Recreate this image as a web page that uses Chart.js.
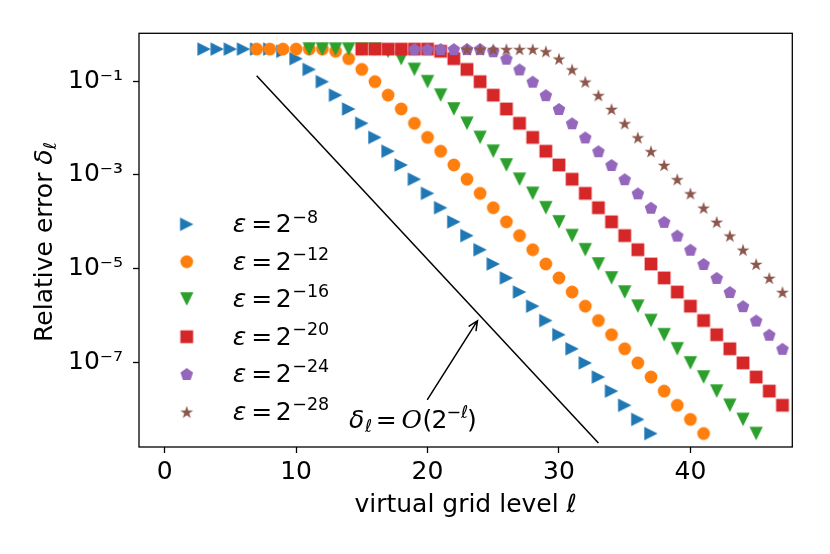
<!DOCTYPE html>
<html>
<head>
<meta charset="utf-8">
<script src="https://cdn.jsdelivr.net/npm/chart.js@4.4.1/dist/chart.umd.min.js"></script>
<style>
  html, body { margin: 0; padding: 0; background: #fff; }
  canvas { display: block; }
</style>
</head>
<body>
<canvas id="c" width="830" height="554"></canvas>
<script>
// ---------------- data ----------------
const seriesExponents = ['−8', '−12', '−16', '−20', '−24', '−28'];
const seriesColors = ['#1f77b4', '#ff7f0e', '#2ca02c', '#d62728', '#9467bd', '#8c564b'];
const seriesShapes = ['triRight', 'circle', 'triDown', 'square', 'pentagon', 'star'];

const levelsEps8 = [3,4,5,6,7,8,9,10,11,12,13,14,15,16,17,18,19,20,21,22,23,24,25,26,27,28,29,30,31,32,33,34,35,36,37];
const errorEps8 = [0.48,0.48,0.48,0.48,0.48,0.48,0.43,0.30,0.177,0.097,0.050,0.0254,0.0126,6.3e-3,3.2e-3,1.63e-3,8.1e-4,4.05e-4,2.0e-4,1.0e-4,5.1e-5,2.55e-5,1.27e-5,6.4e-6,3.2e-6,1.6e-6,7.9e-7,3.95e-7,1.98e-7,9.9e-8,4.95e-8,2.48e-8,1.24e-8,6.2e-9,3.1e-9];

const levelsEps12 = [7,8,9,10,11,12,13,14,15,16,17,18,19,20,21,22,23,24,25,26,27,28,29,30,31,32,33,34,35,36,37,38,39,40,41];
const errorEps12 = [0.48,0.48,0.48,0.48,0.48,0.48,0.43,0.30,0.177,0.097,0.050,0.0254,0.0126,6.3e-3,3.2e-3,1.63e-3,8.1e-4,4.05e-4,2.0e-4,1.0e-4,5.1e-5,2.55e-5,1.27e-5,6.4e-6,3.2e-6,1.6e-6,7.9e-7,3.95e-7,1.98e-7,9.9e-8,4.95e-8,2.48e-8,1.24e-8,6.2e-9,3.1e-9];

const levelsEps16 = [11,12,13,14,15,16,17,18,19,20,21,22,23,24,25,26,27,28,29,30,31,32,33,34,35,36,37,38,39,40,41,42,43,44,45];
const errorEps16 = [0.48,0.48,0.48,0.48,0.48,0.48,0.43,0.30,0.177,0.097,0.050,0.0254,0.0126,6.3e-3,3.2e-3,1.63e-3,8.1e-4,4.05e-4,2.0e-4,1.0e-4,5.1e-5,2.55e-5,1.27e-5,6.4e-6,3.2e-6,1.6e-6,7.9e-7,3.95e-7,1.98e-7,9.9e-8,4.95e-8,2.48e-8,1.24e-8,6.2e-9,3.1e-9];

const levelsEps20 = [15,16,17,18,19,20,21,22,23,24,25,26,27,28,29,30,31,32,33,34,35,36,37,38,39,40,41,42,43,44,45,46,47];
const errorEps20 = [0.48,0.48,0.48,0.48,0.48,0.48,0.43,0.30,0.177,0.097,0.050,0.0254,0.0126,6.3e-3,3.2e-3,1.63e-3,8.1e-4,4.05e-4,2.0e-4,1.0e-4,5.1e-5,2.55e-5,1.27e-5,6.4e-6,3.2e-6,1.6e-6,7.9e-7,3.95e-7,1.98e-7,9.9e-8,4.95e-8,2.48e-8,1.24e-8];

const levelsEps24 = [19,20,21,22,23,24,25,26,27,28,29,30,31,32,33,34,35,36,37,38,39,40,41,42,43,44,45,46,47];
const errorEps24 = [0.48,0.48,0.48,0.48,0.48,0.48,0.43,0.30,0.177,0.097,0.050,0.0254,0.0126,6.3e-3,3.2e-3,1.63e-3,8.1e-4,4.05e-4,2.0e-4,1.0e-4,5.1e-5,2.55e-5,1.27e-5,6.4e-6,3.2e-6,1.6e-6,7.9e-7,3.95e-7,1.98e-7];

const levelsEps28 = [23,24,25,26,27,28,29,30,31,32,33,34,35,36,37,38,39,40,41,42,43,44,45,46,47];
const errorEps28 = [0.48,0.48,0.48,0.48,0.48,0.48,0.43,0.30,0.177,0.097,0.050,0.0254,0.0126,6.3e-3,3.2e-3,1.63e-3,8.1e-4,4.05e-4,2.0e-4,1.0e-4,5.1e-5,2.55e-5,1.27e-5,6.4e-6,3.2e-6];

// reference slope line delta = O(2^-l)
const refLevels = [7, 33];
const refError = [0.13, 1.94e-9];

// axis ticks
const xTickValues = [0, 10, 20, 30, 40];
const yTickValues = [1e-1, 1e-3, 1e-5, 1e-7];
const yTickLabels = ['10⁻¹', '10⁻³', '10⁻⁵', '10⁻⁷'];

// annotation anchors (data coordinates)
const annotTextAt = { x: 18.85, y: 6.64e-9 };
const annotArrowTail = { x: 20.0, y: 1.66e-8 };
const annotArrowTip = { x: 23.8, y: 7.85e-7 };

// ---------------- styling ----------------
const FONT = '"DejaVu Sans", "Liberation Sans", sans-serif';
Chart.defaults.font.family = FONT;
Chart.defaults.color = '#000';

function makeMarker(shape, color) {
  const S = 16;
  const c = document.createElement('canvas');
  c.width = S; c.height = S;
  const g = c.getContext('2d');
  g.translate(S / 2, S / 2);
  g.fillStyle = color;
  g.beginPath();
  const h = 6.7;
  if (shape === 'triRight') {
    g.moveTo(h, 0); g.lineTo(-h, -h); g.lineTo(-h, h);
  } else if (shape === 'triDown') {
    g.moveTo(0, h); g.lineTo(-h, -h); g.lineTo(h, -h);
  } else if (shape === 'circle') {
    g.arc(0, 0, 6.4, 0, Math.PI * 2);
  } else if (shape === 'square') {
    g.rect(-6.4, -6.4, 12.8, 12.8);
  } else if (shape === 'pentagon') {
    const r = 6.6;
    for (let k = 0; k < 5; k++) {
      const a = -Math.PI / 2 + k * 2 * Math.PI / 5;
      const px = r * Math.cos(a), py = r * Math.sin(a) + 0.6;
      k ? g.lineTo(px, py) : g.moveTo(px, py);
    }
  } else if (shape === 'star') {
    const ro = 6.8, ri = 6.8 * 0.381966;
    for (let k = 0; k < 10; k++) {
      const a = -Math.PI / 2 + k * Math.PI / 5;
      const r = k % 2 ? ri : ro;
      const px = r * Math.cos(a), py = r * Math.sin(a) + 0.8;
      k ? g.lineTo(px, py) : g.moveTo(px, py);
    }
  }
  g.closePath();
  g.fill();
  return c;
}

const seriesLevels = [levelsEps8, levelsEps12, levelsEps16, levelsEps20, levelsEps24, levelsEps28];
const seriesErrors = [errorEps8, errorEps12, errorEps16, errorEps20, errorEps24, errorEps28];

const datasets = seriesLevels.map((lv, i) => ({
  label: 'ε = 2' + seriesExponents[i],
  data: lv.map((x, j) => ({ x: x, y: seriesErrors[i][j] })),
  pointStyle: makeMarker(seriesShapes[i], seriesColors[i]),
  pointRadius: 6.5,
  backgroundColor: seriesColors[i],
  borderColor: seriesColors[i],
  showLine: false,
  order: 5 - i
}));

datasets.push({
  label: 'reference',
  data: refLevels.map((x, j) => ({ x: x, y: refError[j] })),
  showLine: true,
  borderColor: '#000',
  borderWidth: 1.5,
  pointRadius: 0,
  fill: false,
  order: 6
});

// ---------------- custom drawing: frame, y title, legend, annotation ----------------
function drawPieces(ctx, x0, baseY, pieces) {
  pieces.forEach(p => {
    ctx.font = p.font;
    const m = ctx.measureText(p.t);
    ctx.fillText(p.t, x0 + p.dx + m.actualBoundingBoxLeft, baseY + (p.dy || 0));
  });
}

const decorPlugin = {
  id: 'decor',
  afterDraw(chart) {
    const ctx = chart.ctx;
    const a = chart.chartArea;
    const xs = chart.scales.x, ys = chart.scales.y;
    ctx.save();
    // frame
    ctx.strokeStyle = '#000';
    ctx.lineWidth = 1.3;
    ctx.strokeRect(a.left, a.top, a.right - a.left, a.bottom - a.top);

    ctx.fillStyle = '#000';
    ctx.textBaseline = 'alphabetic';
    ctx.textAlign = 'left';

    // y-axis title "Relative error δℓ"
    ctx.save();
    ctx.translate(52, 242);
    ctx.rotate(-Math.PI / 2);
    const f1 = '25px ' + FONT, f2 = 'italic 25px ' + FONT, f3 = 'italic 17.5px ' + FONT;
    ctx.font = f1; const w1 = ctx.measureText('Relative error ').width;
    ctx.font = f2; const w2 = ctx.measureText('δ').width;
    ctx.font = f3; const w3 = ctx.measureText('ℓ').width;
    let sx = -(w1 + w2 + w3) / 2;
    ctx.font = f1; ctx.fillText('Relative error ', sx, 0); sx += w1;
    ctx.font = f2; ctx.fillText('δ', sx, 0); sx += w2;
    ctx.font = f3; ctx.fillText('ℓ', sx, 4);
    ctx.restore();

    // legend
    const legX = 186.7, legTextX = 232.7;
    const rowY = [224.3, 261.7, 299.0, 336.7, 374.0, 411.7];
    chart.data.datasets.slice(0, 6).forEach((ds, i) => {
      const img = ds.pointStyle;
      ctx.drawImage(img, legX - img.width / 2, rowY[i] - img.height / 2);
      drawPieces(ctx, legTextX, rowY[i] + 8, [
        { t: 'ε', font: 'italic 25px ' + FONT, dx: 0 },
        { t: '=', font: '25px ' + FONT, dx: 20.5 },
        { t: '2', font: '25px ' + FONT, dx: 44 },
        { t: seriesExponents[i], font: '17.5px ' + FONT, dx: 60.6, dy: -9.6 }
      ]);
    });

    // annotation arrow
    const tx = xs.getPixelForValue(annotArrowTail.x), ty = ys.getPixelForValue(annotArrowTail.y);
    const hx = xs.getPixelForValue(annotArrowTip.x), hy = ys.getPixelForValue(annotArrowTip.y);
    ctx.lineWidth = 1.5;
    ctx.lineCap = 'round';
    ctx.beginPath();
    ctx.moveTo(tx, ty); ctx.lineTo(hx, hy);
    const ang = Math.atan2(hy - ty, hx - tx);
    const L = 10, spread = 0.42;
    ctx.moveTo(hx - L * Math.cos(ang - spread), hy - L * Math.sin(ang - spread));
    ctx.lineTo(hx, hy);
    ctx.lineTo(hx - L * Math.cos(ang + spread), hy - L * Math.sin(ang + spread));
    ctx.stroke();

    // annotation text δℓ = O(2^-ℓ)
    const cx = xs.getPixelForValue(annotTextAt.x), cy = ys.getPixelForValue(annotTextAt.y);
    const left = cx - 63.3, base = cy + 9.7;
    drawPieces(ctx, left, base, [
      { t: 'δ', font: 'italic 25px ' + FONT, dx: 0 },
      { t: 'ℓ', font: 'italic 17.5px ' + FONT, dx: 15, dy: 4 },
      { t: '=', font: '25px ' + FONT, dx: 28.7 },
      { t: 'O', font: 'italic 25px "DejaVu Serif", serif', dx: 52.5 },
      { t: '(', font: '25px ' + FONT, dx: 75.5 },
      { t: '2', font: '25px ' + FONT, dx: 83.3 },
      { t: '−', font: '17.5px ' + FONT, dx: 98.3, dy: -9.6 },
      { t: 'ℓ', font: 'italic 17.5px ' + FONT, dx: 111, dy: -9.6 },
      { t: ')', font: '25px ' + FONT, dx: 120 }
    ]);
    ctx.restore();
  }
};

new Chart(document.getElementById('c'), {
  type: 'scatter',
  data: { datasets: datasets },
  options: {
    responsive: false,
    animation: false,
    devicePixelRatio: 1,
    events: [],
    layout: { padding: { left: 0, top: 33.3, right: 37.7, bottom: 0 } },
    plugins: { legend: { display: false }, tooltip: { enabled: false } },
    scales: {
      x: {
        type: 'linear',
        min: -1.95,
        max: 47.75,
        afterFit: s => { s.height = 107; },
        afterBuildTicks: s => { s.ticks = xTickValues.map(v => ({ value: v })); },
        grid: { display: true, drawOnChartArea: false, drawTicks: true, tickLength: 6, tickWidth: 1.3, tickColor: '#000' },
        border: { display: false },
        ticks: { color: '#000', font: { size: 25 }, padding: 4, autoSkip: false, maxRotation: 0 },
        title: { display: true, text: 'virtual grid level ℓ', color: '#000', font: { size: 25 }, padding: { top: 0, bottom: 34 } }
      },
      y: {
        type: 'logarithmic',
        min: 1.6e-9,
        max: 1.04,
        afterFit: s => { s.width = 139; },
        afterBuildTicks: s => { s.ticks = yTickValues.map(v => ({ value: v })); },
        grid: { display: true, drawOnChartArea: false, drawTicks: true, tickLength: 6, tickWidth: 1.3, tickColor: '#000' },
        border: { display: false },
        ticks: {
          color: '#000', font: { size: 25 }, padding: 10, autoSkip: false,
          callback: (v, i) => yTickLabels[i]
        },
        title: { display: false }
      }
    }
  },
  plugins: [decorPlugin]
});
</script>
</body>
</html>
